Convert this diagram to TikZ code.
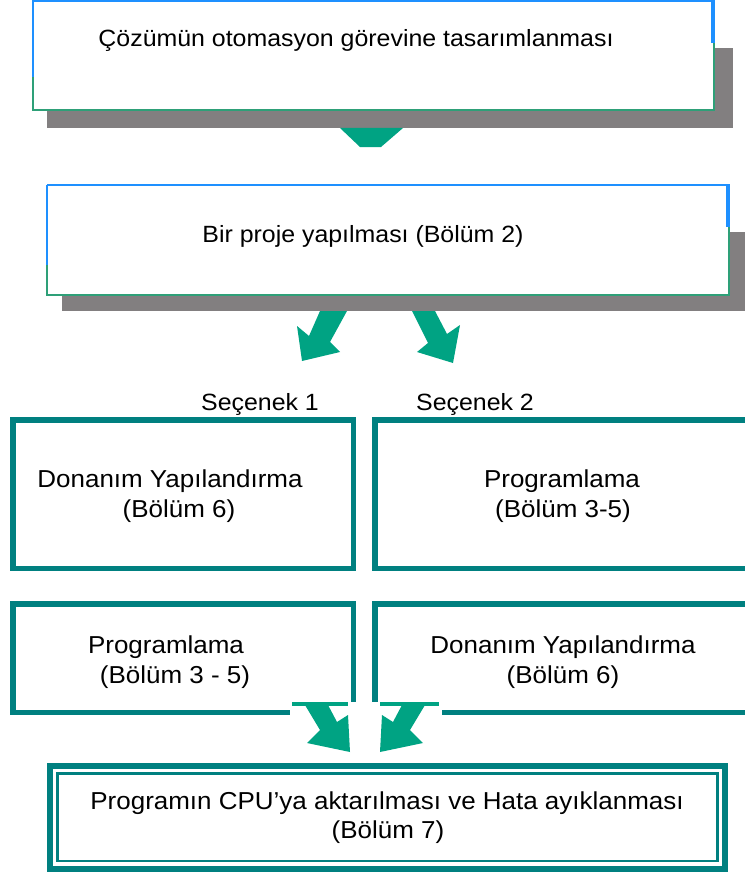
\documentclass[tikz,border=0pt]{standalone}
\usepackage{fontspec}
\setmainfont{Liberation Sans}[FakeStretch=1.06]
\definecolor{edgeblue}{RGB}{30,144,255}
\definecolor{edgegreen}{RGB}{46,160,120}
\definecolor{shadowgray}{RGB}{130,127,128}
\definecolor{arrowgreen}{RGB}{0,163,131}
\definecolor{boxteal}{RGB}{0,128,128}
\tikzset{
  txt/.style={anchor=base, inner sep=0pt, font=\fontsize{24.5}{28}\selectfont},
  txtsmall/.style={anchor=base, inner sep=0pt, font=\fontsize{23.5}{27}\selectfont},
  shade/.style={fill=shadowgray, draw=none},
  bluelin/.style={draw=edgeblue, line width=2pt},
  bluethick/.style={draw=edgeblue, line width=3.5pt},
  greenlin/.style={draw=edgegreen, line width=2.5pt},
  tealbox/.style={draw=boxteal, line width=5.5pt},
  blockarrow/.style={fill=arrowgreen, draw=none},
}
\begin{document}
\begin{tikzpicture}[x=1pt, y=-1pt]
\useasboundingbox (0,0) rectangle (744,872);
\fill[white] (0,0) rectangle (744,872);

% ---------- top box ----------
\fill[shade] (47,48) rectangle (733,128);
\fill[white] (33,1) rectangle (713,110);
\draw[bluelin] (33,1.5) -- (713,1.5);
\draw[bluelin] (33,0) -- (33,77);
\draw[greenlin] (33,77) -- (33,110) -- (714,110) -- (714,43);
\draw[bluethick] (713,0) -- (713,43);
\node[txtsmall] (t1) at (356,47) {Çözümün otomasyon görevine tasarımlanması};
\fill[blockarrow] (340,128) -- (403,128) -- (381,147) -- (360,147) -- cycle;

% ---------- second box ----------
\fill[shade] (62,232) rectangle (750,311);
\fill[white] (47,185) rectangle (728,295);
\draw[bluelin] (47,185) -- (728,185);
\draw[bluelin] (47,185) -- (47,265);
\draw[greenlin] (47,265) -- (47,295) -- (729,295) -- (729,227);
\draw[bluethick] (728,184) -- (728,227);
\node[txtsmall] (t2) at (363,242) {Bir proje yapılması (Bölüm 2)};

% arrows below second box
\fill[blockarrow] (320,311) -- (347,311) -- (330,342) -- (340,352) -- (302,361) -- (297,326) -- (309,336) -- cycle;
\fill[blockarrow] (412,311) -- (435,311) -- (447,334) -- (460,325) -- (453,363) -- (417,352) -- (428,343) -- cycle;

\node[txtsmall] (s1) at (260,410) {Seçenek 1};
\node[txtsmall] (s2) at (475,410) {Seçenek 2};

% ---------- row 1 ----------
\draw[tealbox] (12.75,419.75) rectangle (353.25,568.25);
\draw[tealbox] (374.75,419.75) rectangle (760,568.25);
\node[txt] (a1) at (170,487) {Donanım Yapılandırma};
\node[txt] (a2) at (179,517) {(Bölüm 6)};
\node[txt] (b1) at (562,487) {Programlama};
\node[txt] (b2) at (563,517) {(Bölüm 3-5)};

% ---------- row 2 ----------
\draw[tealbox] (12.75,603.75) rectangle (353.25,712.25);
\draw[tealbox] (374.75,603.75) rectangle (760,712.25);
\fill[white] (290,701.5) rectangle (442,760);
\node[txt] (c1) at (166,653) {Programlama};
\node[txt] (c2) at (175,683) {(Bölüm 3 - 5)};
\node[txt] (d1) at (563,653) {Donanım Yapılandırma};
\node[txt] (d2) at (563,683) {(Bölüm 6)};

% arrows into bottom box
\fill[blockarrow] (292,702) rectangle (348,705.5);
\fill[blockarrow] (305,705) -- (328,705) -- (337,722) -- (348,715) -- (350,752) -- (307,743) -- (320,730) -- cycle;
\fill[blockarrow] (380,702) rectangle (439,705.5);
\fill[blockarrow] (425,705) -- (402,705) -- (393,722) -- (382,715) -- (380,752) -- (423,743) -- (410,730) -- cycle;

% ---------- bottom box ----------
\draw[draw=boxteal, line width=6pt] (50,766) rectangle (725,868.5);
\draw[draw=boxteal, line width=2.5pt] (57.25,773.25) rectangle (717.25,860.75);
\node[txt] (e1) at (387,809) {Programın CPU’ya aktarılması ve Hata ayıklanması};
\node[txt] (e2) at (388,838) {(Bölüm 7)};
\end{tikzpicture}
\end{document}
